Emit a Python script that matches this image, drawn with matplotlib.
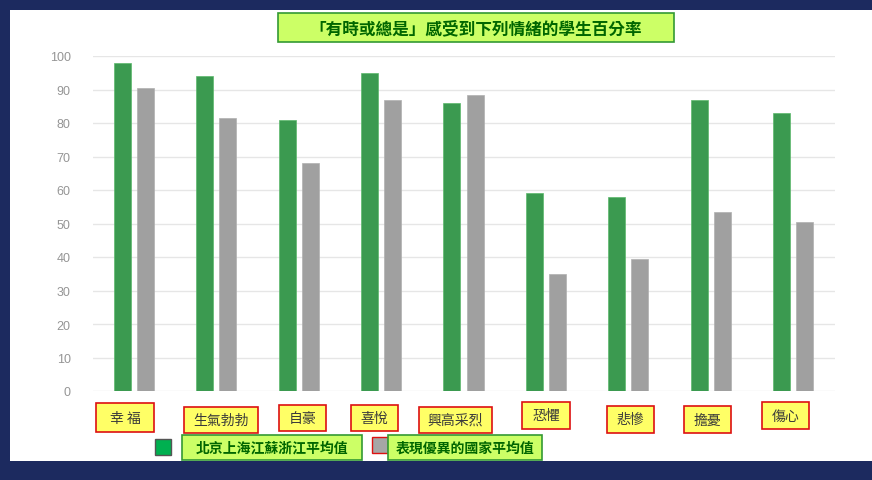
import matplotlib
matplotlib.use("Agg")
import matplotlib.pyplot as plt
from matplotlib.patches import Rectangle
import numpy as np

plt.rcParams['font.family'] = ['Noto Sans CJK TC', 'DejaVu Sans']

categories = ["幸 福", "生氣勃勃", "自豪", "喜悅", "興高采烈", "恐懼", "悲慘", "擔憂", "傷心"]
beijing_shanghai = [98, 94, 81, 95, 86, 59, 58, 87, 83]
top_countries = [90.5, 81.5, 68, 87, 88.5, 35, 39.5, 53.5, 50.5]
yticks = [0, 10, 20, 30, 40, 50, 60, 70, 80, 90, 100]
title = "「有時或總是」感受到下列情緒的學生百分率"
series_names = ["北京上海江蘇浙江平均值", "表現優異的國家平均值"]

W, H = 872, 481
fig = plt.figure(figsize=(W / 100, H / 100), dpi=100)
fig.patch.set_facecolor('#1c2a5f')

def fx(px):
    return px / W

def fy(py):
    return 1 - py / H

def pbox(x0, y0, x1, y1, fc, ec, lw=1.2, z=5):
    r = Rectangle((fx(x0), fy(y1)), fx(x1) - fx(x0), fy(y0) - fy(y1),
                  transform=fig.transFigure, facecolor=fc, edgecolor=ec,
                  linewidth=lw, zorder=z)
    fig.add_artist(r)

# white panel
pbox(10, 11, 873, 462, 'white', 'none', 0, 0)

ax = fig.add_axes([fx(93), fy(392), fx(835) - fx(93), fy(57) - fy(392)])
ax.set_facecolor('none')
x = np.arange(len(categories))
off = 0.14
w = 0.206
ax.bar(x - off, beijing_shanghai, w, color='#3b9a50', edgecolor='#5cb86c', linewidth=0.5, zorder=3)
ax.bar(x + off, top_countries, w, color='#a0a0a0', edgecolor='#b0b0b0', linewidth=0.5, zorder=3)
ax.set_xlim(-0.498, 8.51)
ax.set_ylim(0, 100)
ax.set_yticks(yticks)
ax.set_yticklabels([str(t) for t in yticks], color='#959595', fontsize=9,
                   family=['Liberation Sans', 'DejaVu Sans'])
ax.tick_params(axis='y', length=0, pad=16)
ax.set_xticks([])
ax.grid(axis='y', color='#e6e6e6', linewidth=1, zorder=0)
for s in ax.spines.values():
    s.set_visible(False)
ax.set_clip_on(False)

# title box
pbox(278, 14, 674, 43, '#ccff66', '#339933', 1.2)
fig.text(fx(476), fy(29), title, ha='center', va='center', fontsize=12,
         fontweight='bold', color='#006600', zorder=6)

# category label boxes
label_boxes = [(96, 404, 154, 433), (184, 408, 258, 434), (279, 406, 326, 432),
               (351, 406, 398, 432), (419, 408, 492, 434), (522, 403, 570, 430),
               (607, 407, 654, 434), (684, 407, 731, 434), (762, 403, 809, 430)]
for (x0, y0, x1, y1), lab in zip(label_boxes, categories):
    pbox(x0, y0, x1, y1, '#ffff66', '#dd1111', 1.2)
    fig.text(fx((x0 + x1) / 2), fy((y0 + y1) / 2), lab, ha='center', va='center',
             fontsize=10, color='#3a3a3a', zorder=6)

# legend
pbox(155, 440, 171, 456, '#00b050', '#555555', 1.0)
pbox(182, 436, 362, 461, '#ccff66', '#339933', 1.2)
fig.text(fx(272), fy(448.5), series_names[0], ha='center', va='center', fontsize=10,
         fontweight='bold', color='#006600', zorder=6)
pbox(372, 438, 388, 454, '#a6a6a6', '#dd1111', 1.0)
pbox(388, 436, 542, 461, '#ccff66', '#339933', 1.2)
fig.text(fx(465), fy(448.5), series_names[1], ha='center', va='center', fontsize=10,
         fontweight='bold', color='#006600', zorder=6)

fig.savefig('out.png', dpi=100, facecolor=fig.get_facecolor())
